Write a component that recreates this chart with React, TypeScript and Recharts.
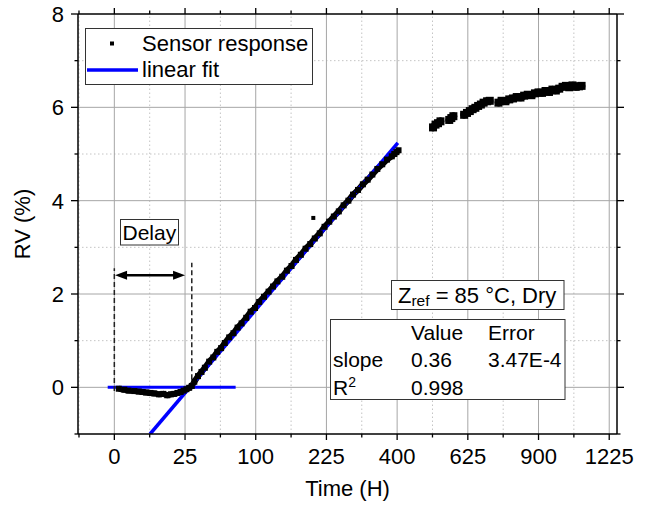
import { ComposedChart, Line, XAxis, YAxis, ReferenceLine } from "recharts";

// x axis is square-root scaled: hours are mapped to √h before plotting
const xMajorHours = [0, 25, 100, 225, 400, 625, 900, 1225];
const xMinorHours = [-6.25, 6.25, 56.25, 156.25, 306.25, 506.25, 756.25, 1056.25];
const yMajor = [0, 2, 4, 6, 8];
const yMinor = [-1, 1, 3, 5, 7];

// sensor response, one array pair per continuous run of samples
const riseTime = [
  0.1, 0.5, 1, 2, 3, 4, 5, 6.5, 8, 10, 12, 14, 16, 18, 20, 22, 24, 26, 28, 30,
  32, 35, 38, 41, 45, 49, 53, 57, 61, 66, 71, 76, 81, 87, 93, 99, 105, 112, 119, 126,
  133, 141, 149, 157, 165, 174, 183, 192, 201, 211, 221, 231, 241, 252, 263, 274, 285,
  297, 309, 321, 333, 346, 359, 372, 385, 392, 398, 404,
];
const riseRV = [
  -0.03, -0.05, -0.07, -0.08, -0.09, -0.1, -0.11, -0.12, -0.13, -0.15, -0.14, -0.17, -0.15,
  -0.14, -0.12, -0.1, -0.07, -0.04, -0.01, 0.03,
  0.12, 0.24, 0.33, 0.42, 0.55, 0.64, 0.76, 0.84, 0.95, 1.07, 1.16, 1.28, 1.37, 1.49, 1.62,
  1.7, 1.83, 1.94, 2.05, 2.16, 2.27, 2.37, 2.5, 2.6, 2.73, 2.84, 2.97, 3.07, 3.19, 3.3, 3.44,
  3.55, 3.66, 3.77, 3.9, 4.0, 4.13, 4.23, 4.35, 4.45, 4.56, 4.68, 4.78, 4.88, 4.95, 5.0,
  5.04, 5.08,
];
const outlierTime = [198];
const outlierRV = [3.63];
const run1Time = [508, 516, 524, 532];
const run1RV = [5.57, 5.63, 5.66, 5.7];
const run2Time = [561, 568, 575];
const run2RV = [5.73, 5.77, 5.81];
const run3Time = [612, 622, 632, 642, 652, 662, 672, 682, 695, 705];
const run3RV = [5.84, 5.88, 5.92, 5.96, 5.99, 6.03, 6.06, 6.1, 6.13, 6.14];
const run4Time = [
  738, 750, 765, 780, 795, 810, 825, 840, 855, 870, 885, 900, 915, 930, 945, 960, 975,
  990, 1005, 1020, 1035, 1050, 1065, 1080, 1092,
];
const run4RV = [
  6.1, 6.14, 6.13, 6.17, 6.19, 6.22, 6.21, 6.25, 6.27, 6.26, 6.3, 6.32, 6.31, 6.35, 6.33,
  6.38, 6.36, 6.4, 6.44, 6.46, 6.43, 6.47, 6.44, 6.45, 6.46,
];

// linear fit and the zero baseline
const fitTime = [6.4, 402];
const fitRV = [-1.0, 5.24];
const zeroTime = [-0.22, 73.6];
const zeroRV = [0, 0];

// delay markers (hours)
const delayStart = 0;
const delayEnd = 30;
const arrowEnd = 25;

const FONT = '"Liberation Sans", Arial, sans-serif';
const BLUE = "#0000ff";

const ssqrt = (t: number) => Math.sign(t) * Math.sqrt(Math.abs(t));
const toPoints = (ts: number[], vs: number[]) => ts.map((t, i) => ({ x: ssqrt(t), y: vs[i] }));

const majorX = xMajorHours.map(ssqrt);
const minorX = xMinorHours.map(ssqrt);
const allX = [...minorX, ...majorX].sort((a, b) => a - b);
const allY = [...yMinor, ...yMajor].sort((a, b) => a - b);
const isMajorX = (v: number) => majorX.some((m) => Math.abs(m - v) < 1e-6);
const isMajorY = (v: number) => yMajor.includes(v);

function XTick(props: any) {
  const { x, y, payload, top } = props;
  const major = isMajorX(payload.value);
  const len = major ? 6 : 3.5;
  const d = top ? -1 : 1;
  const hours = Math.round(Math.sign(payload.value) * payload.value * payload.value);
  return (
    <g>
      <line x1={x} x2={x} y1={y} y2={y + d * len} stroke="#000" strokeWidth={1.3} />
      {!top && major && (
        <text x={x} y={y + 30} textAnchor="middle" fontSize={22} fontFamily={FONT} fill="#000">
          {hours}
        </text>
      )}
    </g>
  );
}

function YTick(props: any) {
  const { x, y, payload, right } = props;
  const major = isMajorY(payload.value);
  const len = major ? 7 : 3.5;
  const d = right ? 1 : -1;
  return (
    <g>
      <line x1={x} x2={x + d * len} y1={y} y2={y} stroke="#000" strokeWidth={1.3} />
      {!right && major && (
        <text x={x - 14} y={y + 8} textAnchor="end" fontSize={22} fontFamily={FONT} fill="#000">
          {payload.value}
        </text>
      )}
    </g>
  );
}

function Arrow(props: any) {
  const { x1, y1, x2, y2 } = props;
  const h = 12;
  const w = 4.5;
  return (
    <g>
      <line x1={x1 + h - 2} x2={x2 - h + 2} y1={y1} y2={y2} stroke="#000" strokeWidth={2.5} />
      <polygon points={`${x1},${y1} ${x1 + h},${y1 - w} ${x1 + h},${y1 + w}`} fill="#000" />
      <polygon points={`${x2},${y2} ${x2 - h},${y2 - w} ${x2 - h},${y2 + w}`} fill="#000" />
    </g>
  );
}

const Square = (p: any) => (
  <rect key={p.index} x={p.cx - 3} y={p.cy - 3} width={6} height={6} fill="#000" />
);
const BigSquare = (p: any) => (
  <rect key={p.index} x={p.cx - 4} y={p.cy - 4} width={8} height={8} fill="#000" />
);

export default function App() {
  const riseRun = toPoints(riseTime, riseRV);
  const lateRuns = [
    toPoints(run1Time, run1RV),
    toPoints(run2Time, run2RV),
    toPoints(run3Time, run3RV),
    toPoints(run4Time, run4RV),
  ];
  const axisLine = { stroke: "#000", strokeWidth: 1.5 };
  const domainX: [number, number] = [-2.57, 35.55];
  return (
    <div style={{ position: "absolute", left: 0, top: 0, width: 648, height: 506, background: "#fff" }}>
      <ComposedChart width={648} height={506} margin={{ top: 0, right: 0, bottom: 0, left: 0 }}>
        <XAxis
          xAxisId={0}
          type="number"
          dataKey="x"
          domain={domainX}
          allowDataOverflow
          ticks={allX}
          interval={0}
          height={72}
          tickSize={0}
          tickMargin={0}
          axisLine={axisLine}
          tickLine={false}
          tick={(p: any) => <XTick {...p} />}
        />
        <XAxis
          xAxisId="top"
          orientation="top"
          type="number"
          dataKey="x"
          domain={domainX}
          allowDataOverflow
          ticks={allX}
          interval={0}
          height={14}
          tickSize={0}
          tickMargin={0}
          axisLine={axisLine}
          tickLine={false}
          tick={(p: any) => <XTick {...p} top />}
        />
        <YAxis
          yAxisId={0}
          type="number"
          domain={[-1, 8]}
          allowDataOverflow
          ticks={allY}
          interval={0}
          width={78}
          tickSize={0}
          tickMargin={0}
          axisLine={axisLine}
          tickLine={false}
          tick={(p: any) => <YTick {...p} />}
        />
        <YAxis
          yAxisId="right"
          orientation="right"
          type="number"
          domain={[-1, 8]}
          allowDataOverflow
          ticks={allY}
          interval={0}
          width={31}
          tickSize={0}
          tickMargin={0}
          axisLine={axisLine}
          tickLine={false}
          tick={(p: any) => <YTick {...p} right />}
        />

        {minorX.map((v) => (
          <ReferenceLine key={"mx" + v} x={v} stroke="#c4c4c4" strokeDasharray="1.5 2.5" strokeWidth={1} />
        ))}
        {yMinor.slice(1).map((v) => (
          <ReferenceLine key={"my" + v} y={v} stroke="#c4c4c4" strokeDasharray="1.5 2.5" strokeWidth={1} />
        ))}
        {majorX.map((v) => (
          <ReferenceLine key={"Mx" + v} x={v} stroke="#a6a6a6" strokeWidth={1} />
        ))}
        {yMajor.slice(0, -1).map((v) => (
          <ReferenceLine key={"My" + v} y={v} stroke="#a6a6a6" strokeWidth={1} />
        ))}

        <Line
          data={riseRun}
          dataKey="y"
          type="linear"
          stroke="#000"
          strokeWidth={6}
          strokeLinejoin="round"
          dot={Square}
          activeDot={false}
          isAnimationActive={false}
        />
        {lateRuns.map((pts, i) => (
          <Line
            key={"run" + i}
            data={pts}
            dataKey="y"
            type="linear"
            stroke="#000"
            strokeWidth={7.5}
            strokeLinejoin="round"
            strokeLinecap="round"
            dot={BigSquare}
            activeDot={false}
            isAnimationActive={false}
          />
        ))}
        <Line
          data={toPoints(outlierTime, outlierRV)}
          dataKey="y"
          stroke="none"
          dot={(p: any) => <rect key={p.index} x={p.cx - 2} y={p.cy - 2} width={4} height={4} fill="#000" />}
          activeDot={false}
          isAnimationActive={false}
        />
        <Line
          data={toPoints(zeroTime, zeroRV)}
          dataKey="y"
          type="linear"
          stroke={BLUE}
          strokeWidth={3}
          dot={false}
          activeDot={false}
          isAnimationActive={false}
        />
        <Line
          data={toPoints(fitTime, fitRV)}
          dataKey="y"
          type="linear"
          stroke={BLUE}
          strokeWidth={3.5}
          dot={false}
          activeDot={false}
          isAnimationActive={false}
        />

        <ReferenceLine
          segment={[
            { x: ssqrt(delayStart), y: -0.08 },
            { x: ssqrt(delayStart), y: 2.55 },
          ]}
          stroke="#222"
          strokeWidth={1.5}
          strokeDasharray="5 3"
        />
        <ReferenceLine
          segment={[
            { x: ssqrt(delayEnd), y: 0 },
            { x: ssqrt(delayEnd), y: 2.67 },
          ]}
          stroke="#222"
          strokeWidth={1.5}
          strokeDasharray="5 3"
        />
        <ReferenceLine
          segment={[
            { x: ssqrt(delayStart) + 0.05, y: 2.4 },
            { x: ssqrt(arrowEnd), y: 2.4 },
          ]}
          shape={(p: any) => <Arrow {...p} />}
        />
      </ComposedChart>

      <svg
        width={648}
        height={506}
        style={{ position: "absolute", left: 0, top: 0, pointerEvents: "none" }}
        fontFamily={FONT}
      >
        {/* legend */}
        <rect x={85.5} y={28.5} width={227} height={56} fill="#fff" stroke="#333" strokeWidth={1} />
        <rect x={110} y={41.5} width={4} height={4} fill="#000" />
        <text x={142} y={51} fontSize={22} fill="#000">Sensor response</text>
        <line x1={87} x2={138} y1={70} y2={70} stroke={BLUE} strokeWidth={3.5} />
        <text x={142} y={77} fontSize={22} fill="#000">linear fit</text>

        {/* delay label */}
        <rect x={120.5} y={219.5} width={58} height={25.5} fill="#fff" stroke="#333" strokeWidth={1} />
        <text x={122.5} y={240} fontSize={21} fill="#000">Delay</text>

        {/* condition label */}
        <rect x={391.5} y={280.5} width={172.5} height={29} fill="#fff" stroke="#333" strokeWidth={1} />
        <text x={398} y={303} fontSize={22} fill="#000">
          Z<tspan fontSize={15.5} dy={3}>ref</tspan>
          <tspan dy={-3}> = 85 °C, Dry</tspan>
        </text>

        {/* fit statistics */}
        <rect x={330.5} y={319.5} width={234.5} height={80} fill="#fff" stroke="#333" strokeWidth={1} />
        <g fontSize={21} fill="#000">
          <text x={411} y={340}>Value</text>
          <text x={488} y={340}>Error</text>
          <text x={333} y={366.5}>slope</text>
          <text x={411} y={366.5}>0.36</text>
          <text x={488} y={366.5}>3.47E-4</text>
          <text x={333} y={395}>
            R<tspan fontSize={14} dy={-8}>2</tspan>
          </text>
          <text x={411} y={395}>0.998</text>
        </g>

        {/* axis titles */}
        <text x={347.5} y={496} fontSize={22} textAnchor="middle" fill="#000">Time (H)</text>
        <text
          x={30}
          y={224}
          fontSize={22}
          textAnchor="middle"
          fill="#000"
          transform="rotate(-90 30 224)"
        >
          RV (%)
        </text>
      </svg>
    </div>
  );
}
